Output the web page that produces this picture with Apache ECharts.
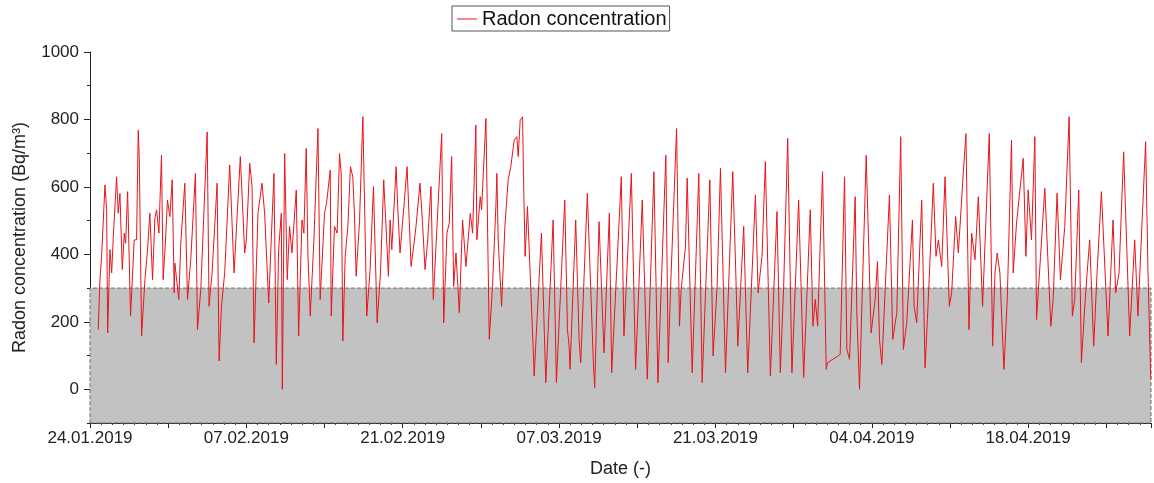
<!DOCTYPE html>
<html>
<head>
<meta charset="utf-8">
<script src="https://cdn.jsdelivr.net/npm/echarts@6/dist/echarts.min.js"></script>
<style>
html,body{margin:0;padding:0;background:#fff;}
#chart{width:1154px;height:483px;}
</style>
</head>
<body>
<div id="chart"></div>
<script>
// Days since 24.01.2019 00:00
var dayOffset = [
0.74,0.89,1.04,1.34,1.49,1.58,1.79,1.94,2.09,2.38,2.53,2.68,2.89,3.07,3.19,3.37,3.63,3.96,4.17,4.32,4.41,4.62,4.92,5.15,5.36,5.60,5.81,5.96,6.17,6.40,6.55,6.70,6.94,7.15,7.36,7.54,
7.60,7.95,8.13,8.49,8.73,9.03,9.44,9.62,9.92,10.49,10.66,10.93,11.38,11.56,11.77,12.06,12.51,12.90,13.46,13.85,14.00,14.30,14.51,14.69,15.04,15.40,15.64,
16.00,16.47,16.68,16.89,17.13,17.22,17.43,17.66,17.87,18.08,18.47,18.68,18.98,19.15,19.36,19.51,19.72,20.05,20.41,20.61,21.00,21.18,21.51,21.60,21.89,22.13,22.34,22.49,22.64,22.85,23.09,23.32,23.53,23.68,
23.83,24.13,24.43,24.78,25.08,25.38,25.71,26.01,26.30,26.72,26.87,27.02,27.41,27.55,27.76,28.15,28.39,28.75,28.98,29.19,29.55,29.79,30.00,30.24,30.53,30.74,30.98,31.49,31.67,
31.96,32.17,32.38,32.56,32.77,33.07,33.36,33.66,34.05,34.26,34.55,34.64,34.94,35.06,35.45,35.75,36.04,36.34,36.43,36.55,36.85,37.15,37.44,37.68,37.98,38.22,38.34,38.52,38.73,38.81,38.96,39.17,39.41,39.71,
39.77,40.42,40.81,41.47,41.76,42.51,42.75,42.90,42.98,43.49,43.79,43.94,44.53,45.07,45.19,45.58,46.02,46.50,46.71,47.57,47.81,
48.47,48.85,49.45,49.90,50.49,50.85,51.56,51.77,51.98,52.52,52.78,52.93,53.32,53.47,53.92,54.51,54.81,55.50,55.79,
56.15,56.45,56.90,57.55,57.79,58.00,58.53,58.89,59.58,59.82,60.17,60.47,60.92,61.51,61.81,62.11,62.47,62.85,63.45,63.90,
64.49,64.73,64.94,65.15,65.59,65.92,66.04,67.17,67.56,67.77,68.01,68.51,68.66,68.90,69.50,69.74,69.94,70.30,70.51,70.69,70.90,71.58,71.88,
72.24,72.59,72.83,73.13,73.64,73.79,74.02,74.47,74.77,74.98,75.51,75.75,75.96,76.26,76.56,76.94,77.15,77.51,77.75,78.19,78.43,78.70,78.94,79.24,79.54,79.92,
80.52,80.82,81.03,81.23,81.47,81.83,82.13,82.51,82.66,82.96,83.20,83.56,83.80,84.00,84.30,84.60,84.75,85.11,85.49,86.03,86.24,86.59,86.89,87.28,87.67,87.96,
88.17,88.53,88.77,89.07,89.28,89.51,89.87,90.17,90.56,91.15,91.60,91.84,92.14,92.55,93.09,93.54,93.83,94.52,94.73,94.98
];
// Radon concentration (Bq/m3)
var radon = [
177,325,394,606,532,167,414,345,453,630,522,581,355,463,433,586,217,443,443,768,690,158,325,413,522,325,507,532,463,694,325,404,561,512,621,286,
374,266,433,611,266,389,640,177,296,763,246,345,611,84,246,345,665,345,690,404,443,670,601,138,522,611,520,
256,640,74,414,522,0,699,325,483,404,591,158,502,463,714,404,217,443,773,266,522,552,650,217,483,463,699,640,143,394,483,660,630,520,
335,497,808,217,355,601,197,345,621,335,502,414,660,542,404,560,660,364,424,483,611,483,355,443,601,266,424,758,197,
463,493,690,305,404,227,502,364,522,463,783,443,571,532,803,148,305,542,640,443,246,483,621,660,739,749,690,798,808,640,394,542,345,99,
39,463,20,502,20,561,177,128,59,502,148,79,581,79,5,497,108,522,49,630,158,
640,59,561,30,645,20,694,79,296,773,187,296,424,626,49,640,20,621,99,
305,655,49,645,384,128,483,49,576,286,394,675,39,527,49,305,744,49,561,35,
532,187,266,187,645,59,79,103,630,118,89,571,227,0,694,404,167,266,379,148,74,576,148,
227,749,118,197,502,246,197,561,64,207,611,394,443,364,630,246,286,512,404,640,758,177,463,384,571,246,
758,128,345,404,345,59,266,739,345,493,571,685,394,591,443,749,207,394,596,187,266,581,325,483,808,217,
266,591,79,246,345,443,128,345,586,158,502,286,345,704,158,443,217,734,345,30
];
var yLabelValues = [0, 200, 400, 600, 800, 1000];
var yMinorTickValues = [-100, 100, 300, 500, 700, 900];
var xLabelDays = [0, 14, 28, 42, 56, 70, 84];
var seriesName = 'Radon concentration';
var startDate = Date.UTC(2019, 0, 24);

function pad(n){ return (n < 10 ? '0' : '') + n; }
function fmtDay(v){
  var d = new Date(startDate + Math.round(v) * 86400000);
  return pad(d.getUTCDate()) + '.' + pad(d.getUTCMonth() + 1) + '.' + d.getUTCFullYear();
}

var points = dayOffset.map(function(d, i){ return [d, radon[i]]; });
var font = '"Liberation Sans", Arial, sans-serif';

var chart = echarts.init(document.getElementById('chart'), null, {renderer: 'canvas'});
chart.setOption({
  animation: false,
  backgroundColor: '#ffffff',
  textStyle: {fontFamily: font},
  legend: {
    data: [{name: seriesName, icon: 'rect'}],
    left: 452,
    top: 6,
    padding: [3, 3, 2, 5],
    borderColor: '#555',
    borderWidth: 1,
    borderRadius: 0,
    itemWidth: 20,
    itemHeight: 1,
    itemGap: 4,
    textStyle: {fontFamily: font, fontSize: 20, color: '#111', padding: [0, 0, 0, 0]}
  },
  grid: {left: 90, right: 2, top: 52, bottom: 60, containLabel: false},
  xAxis: {
    type: 'value',
    min: 0,
    max: 95,
    interval: 7,
    name: 'Date (-)',
    nameLocation: 'middle',
    nameGap: 37,
    nameTextStyle: {fontFamily: font, fontSize: 18, color: '#222'},
    axisLine: {show: true, onZero: false, lineStyle: {color: '#222', width: 1}},
    axisTick: {show: true, length: 5, lineStyle: {color: '#222'}},
    minorTick: {show: true, splitNumber: 7, length: 2, lineStyle: {color: '#444'}},
    splitLine: {show: false},
    axisLabel: {
      margin: 7,
      fontFamily: font, fontSize: 17, color: '#222',
      formatter: function(v){
        var r = Math.round(v);
        if (Math.abs(v - r) > 1e-6) return '';
        return xLabelDays.indexOf(r) >= 0 ? fmtDay(r) : '';
      }
    }
  },
  yAxis: [{
    type: 'value',
    min: -100,
    max: 1000,
    interval: 100,
    name: 'Radon concentration (Bq/m³)',
    nameLocation: 'middle',
    nameGap: 61,
    nameRotate: 90,
    nameTextStyle: {fontFamily: font, fontSize: 18, color: '#222'},
    axisLine: {show: true, lineStyle: {color: '#222', width: 1}},
    axisTick: {show: true, length: 6, customValues: yLabelValues, lineStyle: {color: '#222'}},
    splitLine: {show: false},
    axisLabel: {
      margin: 11,
      fontFamily: font, fontSize: 17, color: '#222',
      customValues: yLabelValues,
      formatter: function(v){ return String(Math.round(v)); }
    }
  }, {
    type: 'value',
    min: -100,
    max: 1000,
    interval: 100,
    position: 'left',
    axisLine: {show: false},
    axisTick: {show: true, length: 3, customValues: yMinorTickValues, lineStyle: {color: '#222'}},
    axisLabel: {show: false},
    splitLine: {show: false}
  }],
  series: [{
    name: seriesName,
    type: 'line',
    data: points,
    symbol: 'none',
    showSymbol: false,
    lineStyle: {color: '#e8141c', width: 1},
    itemStyle: {color: '#e8141c'},
    markArea: {
      silent: true,
      itemStyle: {color: '#c2c2c2', borderColor: '#6e6e5e', borderWidth: 1, borderType: 'dashed'},
      data: [[{yAxis: -100}, {yAxis: 300}]]
    }
  }]
});
</script>
</body>
</html>
